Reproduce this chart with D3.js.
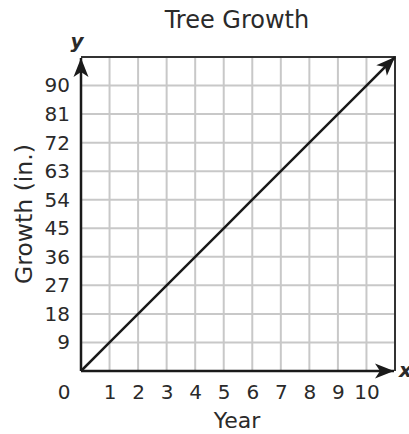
<!DOCTYPE html>
<html>
<head>
<meta charset="utf-8">
<script src="https://cdn.jsdelivr.net/npm/d3@7"></script>
<style>
  body { margin: 0; background: #fff; }
  text { font-family: Verdana, "DejaVu Sans", sans-serif; fill: #2a2a2a; }
</style>
</head>
<body>
<script>
// Données
const years = [0, 1, 2, 3, 4, 5, 6, 7, 8, 9, 10, 11]
const growth = [0, 9, 18, 27, 36, 45, 54, 63, 72, 81, 90, 99]
const xTicks = [1, 2, 3, 4, 5, 6, 7, 8, 9, 10]
const yTicks = [9, 18, 27, 36, 45, 54, 63, 72, 81, 90]
const xGrid = [1, 2, 3, 4, 5, 6, 7, 8, 9, 10]
const yGrid = [9, 18, 27, 36, 45, 54, 63, 72, 81, 90]

const width = 409
const height = 434

const svg = d3.select('body')
  .append('svg')
  .attr('width', width)
  .attr('height', height)

const x = d3.scaleLinear().domain([0, 11]).range([81, 395])
const y = d3.scaleLinear().domain([0, 99]).range([371, 57])

// Flèches
const defs = svg.append('defs')
defs.append('marker')
  .attr('id', 'arrow')
  .attr('viewBox', '-20 -10 22 20')
  .attr('refX', 0)
  .attr('refY', 0)
  .attr('markerUnits', 'userSpaceOnUse')
  .attr('markerWidth', 22)
  .attr('markerHeight', 20)
  .attr('orient', 'auto')
  .append('path')
    .attr('d', 'M0,0 L-19,-7.5 L-14,0 L-19,7.5 Z')
    .attr('fill', '#1a1a1a')

// Grille
svg.append('g')
  .selectAll('line')
  .data(xGrid)
  .enter()
  .append('line')
    .attr('x1', d => x(d))
    .attr('x2', d => x(d))
    .attr('y1', y(0))
    .attr('y2', y(99))
    .attr('stroke', '#c8c8c8')
    .attr('stroke-width', 2)

svg.append('g')
  .selectAll('line')
  .data(yGrid)
  .enter()
  .append('line')
    .attr('x1', x(0))
    .attr('x2', x(11))
    .attr('y1', d => y(d))
    .attr('y2', d => y(d))
    .attr('stroke', '#c8c8c8')
    .attr('stroke-width', 2)

// Cadre haut et droite
svg.append('path')
  .attr('d', `M${x(0)},${y(99)} H${x(11)} V${y(0)}`)
  .attr('fill', 'none')
  .attr('stroke', '#333')
  .attr('stroke-width', 2)

// Axes avec flèches
svg.append('line')
  .attr('x1', x(0)).attr('y1', y(0))
  .attr('x2', x(0)).attr('y2', y(99) + 1)
  .attr('stroke', '#1a1a1a')
  .attr('stroke-width', 2.5)
  .attr('marker-end', 'url(#arrow)')

svg.append('line')
  .attr('x1', x(0)).attr('y1', y(0))
  .attr('x2', x(11) - 1).attr('y2', y(0))
  .attr('stroke', '#1a1a1a')
  .attr('stroke-width', 2.5)
  .attr('marker-end', 'url(#arrow)')

// Ligne de croissance
const line = d3.line()
  .x((d, i) => x(years[i]))
  .y(d => y(d))

svg.append('path')
  .datum(growth)
  .attr('d', line)
  .attr('fill', 'none')
  .attr('stroke', '#1a1a1a')
  .attr('stroke-width', 2.5)
  .attr('marker-end', 'url(#arrow)')

// Graduations
const yAxis = svg.append('g')
  .attr('transform', `translate(${x(0)},0)`)
  .call(d3.axisLeft(y).tickValues(yTicks).tickSize(0).tickPadding(11))
yAxis.select('.domain').remove()
yAxis.selectAll('text').attr('font-size', 20).attr('fill', '#2a2a2a')
  .style('font-family', 'Verdana, "DejaVu Sans", sans-serif')

const xAxis = svg.append('g')
  .attr('transform', `translate(0,${y(0)})`)
  .call(d3.axisBottom(x).tickValues(xTicks).tickSize(0).tickPadding(14))
xAxis.select('.domain').remove()
xAxis.selectAll('text').attr('font-size', 20).attr('fill', '#2a2a2a')
  .style('font-family', 'Verdana, "DejaVu Sans", sans-serif')

svg.append('text')
  .text('0')
  .attr('x', x(0) - 17)
  .attr('y', 399)
  .attr('text-anchor', 'middle')
  .attr('font-size', 20)

// Titres
svg.append('text')
  .text('Tree Growth')
  .attr('x', 237)
  .attr('y', 28)
  .attr('text-anchor', 'middle')
  .attr('font-size', 24)

svg.append('text')
  .text('Year')
  .attr('x', 237)
  .attr('y', 428)
  .attr('text-anchor', 'middle')
  .attr('font-size', 22)

svg.append('text')
  .text('Growth (in.)')
  .attr('transform', 'translate(32,214) rotate(-90)')
  .attr('text-anchor', 'middle')
  .attr('font-size', 23.5)

svg.append('text')
  .text('y')
  .attr('x', 77)
  .attr('y', 48)
  .attr('text-anchor', 'middle')
  .attr('font-size', 20)
  .attr('font-weight', 'bold')
  .attr('font-style', 'italic')

svg.append('text')
  .text('x')
  .attr('x', 399)
  .attr('y', 377)
  .attr('font-size', 20)
  .attr('font-weight', 'bold')
  .attr('font-style', 'italic')
</script>
</body>
</html>
